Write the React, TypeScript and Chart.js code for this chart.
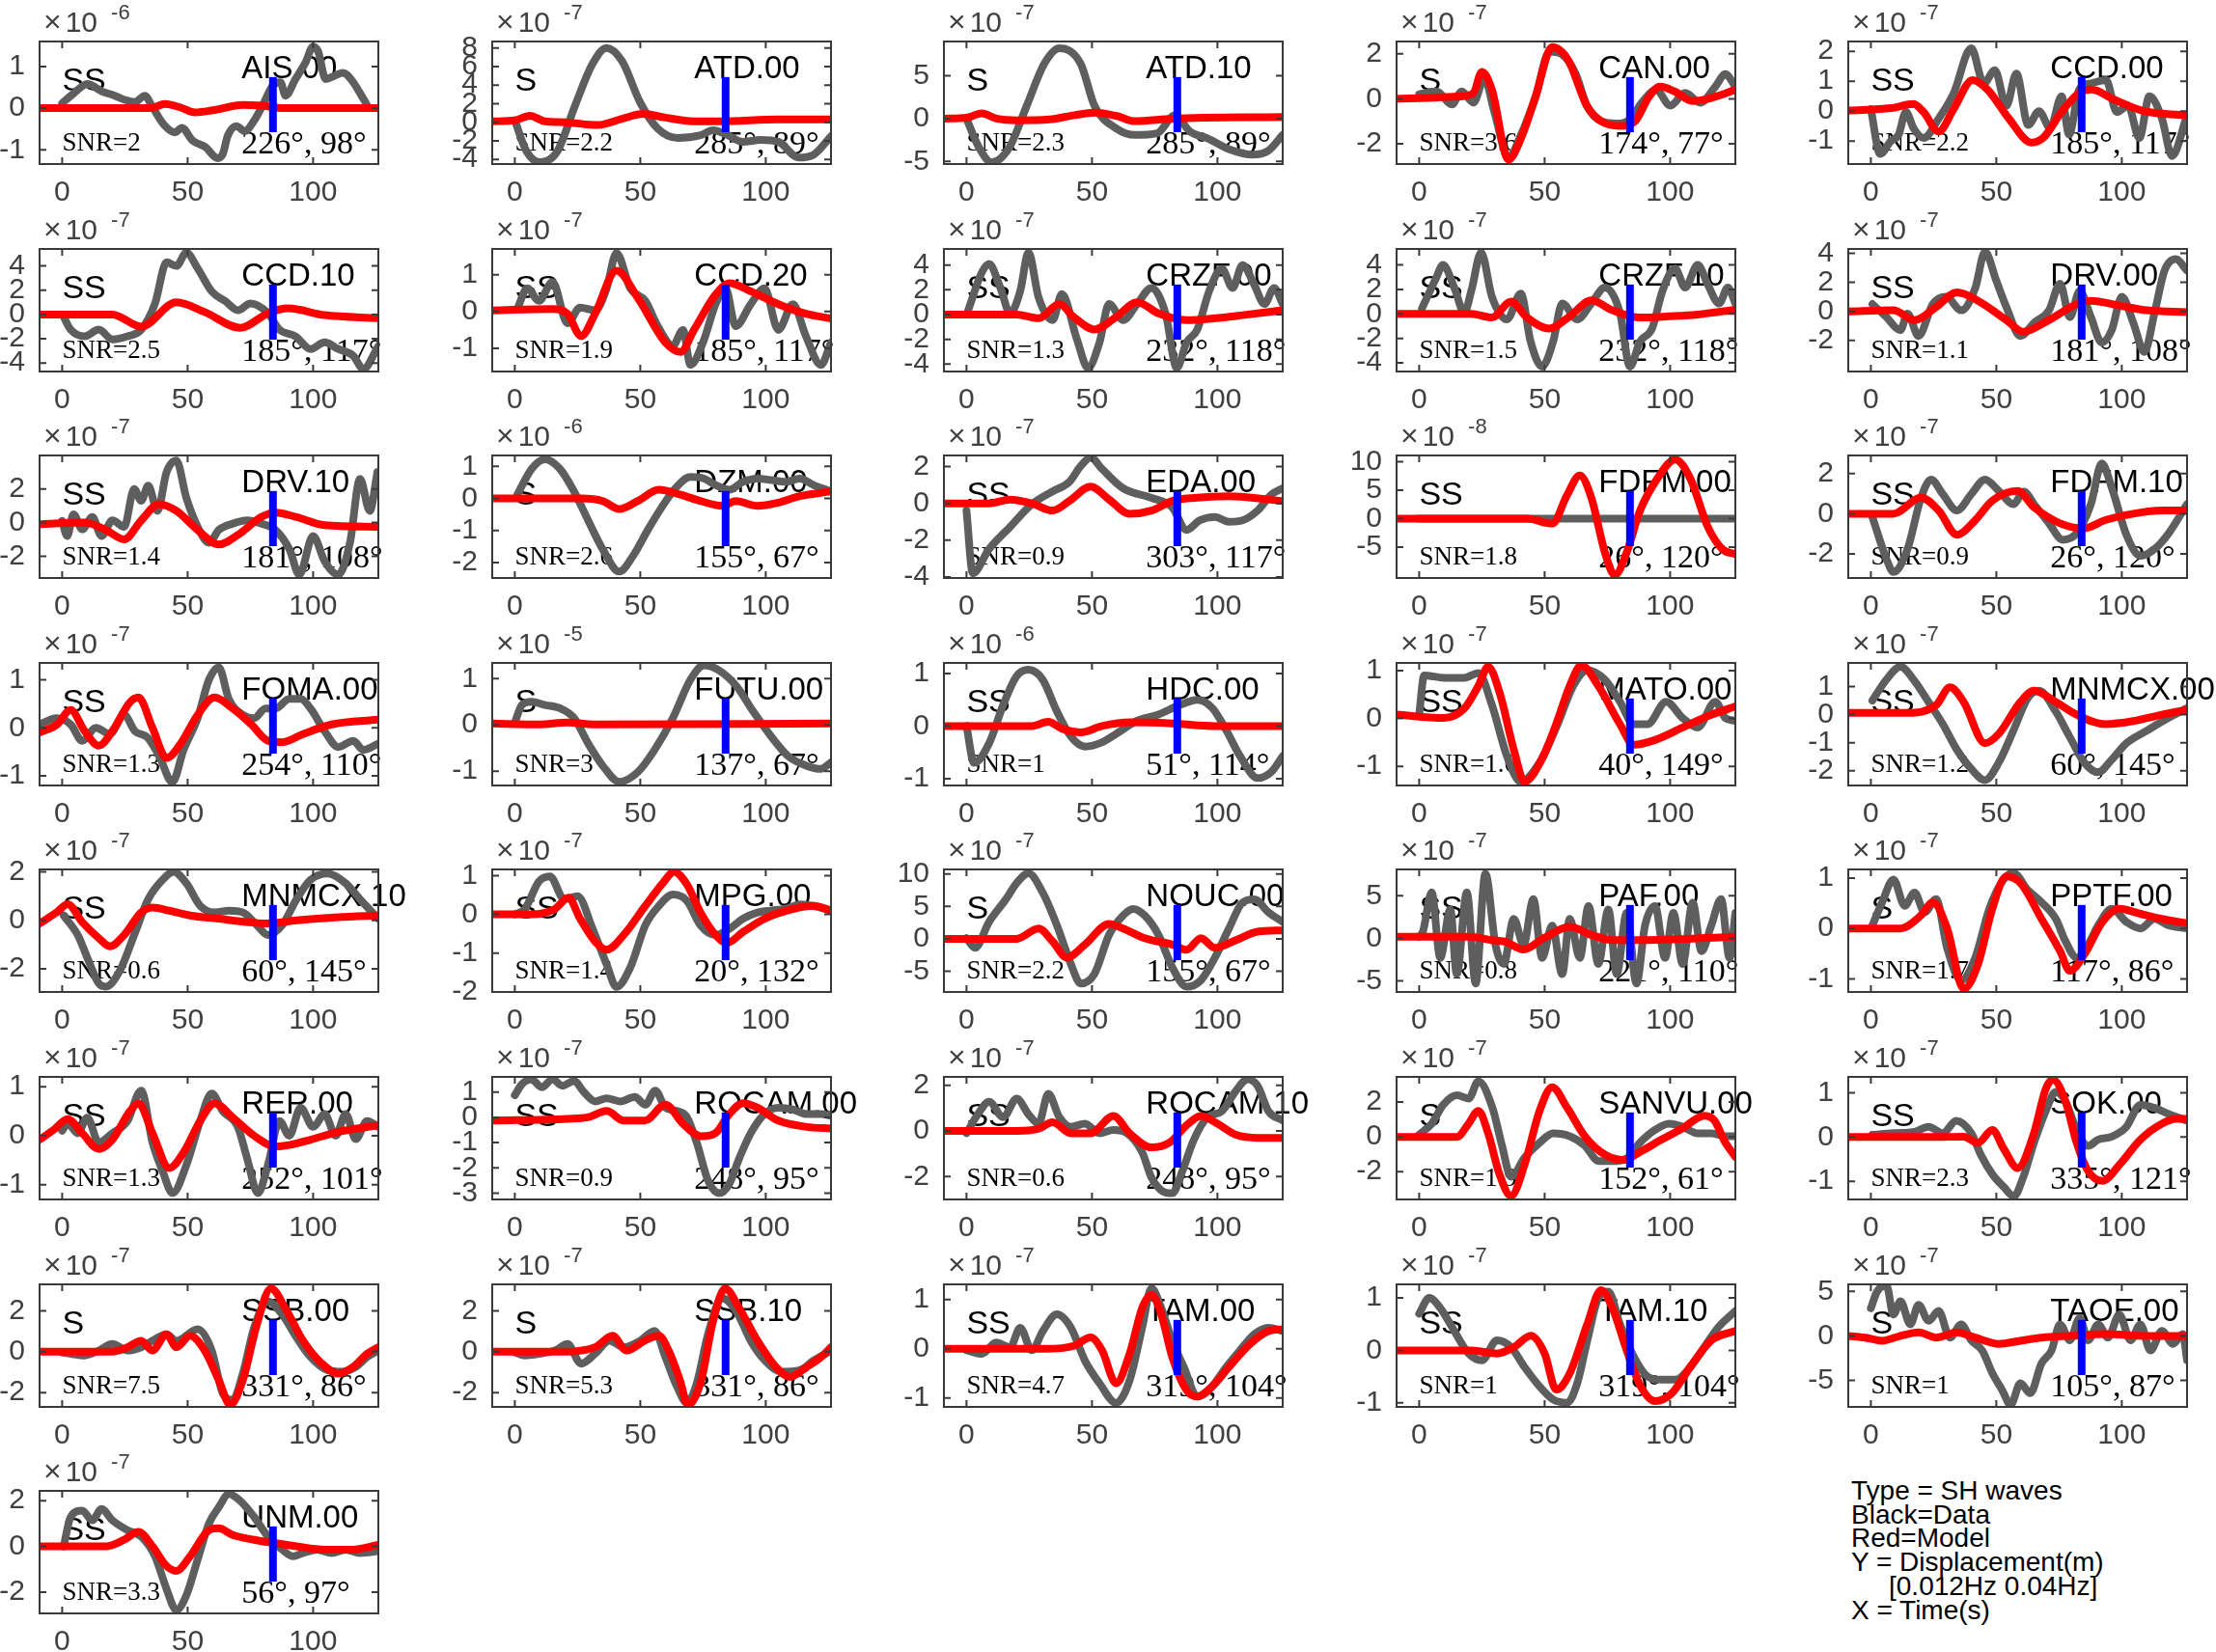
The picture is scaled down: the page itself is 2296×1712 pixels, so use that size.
import { useEffect, useRef } from "react";
import { Chart, registerables } from "chart.js";

Chart.register(...registerables);

// one entry per panel, row by row (5 per row)
const stations = [
  "AIS.00", "ATD.00", "ATD.10", "CAN.00", "CCD.00",
  "CCD.10", "CCD.20", "CRZF.00", "CRZF.10", "DRV.00",
  "DRV.10", "DZM.00", "EDA.00", "FDFM.00", "FDFM.10",
  "FOMA.00", "FUTU.00", "HDC.00", "MATO.00", "MNMCX.00",
  "MNMCX.10", "MPG.00", "NOUC.00", "PAF.00", "PPTF.00",
  "RER.00", "ROCAM.00", "ROCAM.10", "SANVU.00", "SOK.00",
  "SSB.00", "SSB.10", "TAM.00", "TAM.10", "TAOE.00",
  "UNM.00",
];
const phases = [
  "SS", "S", "S", "S", "SS",
  "SS", "SS", "SS", "SS", "SS",
  "SS", "S", "SS", "SS", "SS",
  "SS", "S", "SS", "SS", "SS",
  "SS", "SS", "S", "SS", "S",
  "SS", "SS", "SS", "S", "SS",
  "S", "S", "SS", "SS", "S",
  "SS",
];
const snrs = [
  "2", "2.2", "2.3", "3.6", "2.2",
  "2.5", "1.9", "1.3", "1.5", "1.1",
  "1.4", "2.6", "0.9", "1.8", "0.9",
  "1.3", "3", "1", "1.6", "1.2",
  "0.6", "1.4", "2.2", "0.8", "1.7",
  "1.3", "0.9", "0.6", "1.9", "2.3",
  "7.5", "5.3", "4.7", "1", "1",
  "3.3",
];
const azimuths = [
  226, 285, 285, 174, 185,
  185, 185, 232, 232, 181,
  181, 155, 303, 26, 26,
  254, 137, 51, 40, 60,
  60, 20, 155, 221, 117,
  252, 248, 248, 152, 335,
  331, 331, 319, 319, 105,
  56,
];
const distances = [
  98, 89, 89, 77, 117,
  117, 117, 118, 118, 108,
  108, 67, 117, 120, 120,
  110, 67, 114, 149, 145,
  145, 132, 67, 110, 86,
  101, 95, 95, 61, 121,
  86, 86, 104, 104, 87,
  97,
];
const exponents = [
  -6, -7, -7, -7, -7,
  -7, -7, -7, -7, -7,
  -7, -6, -7, -8, -7,
  -7, -5, -6, -7, -7,
  -7, -7, -7, -7, -7,
  -7, -7, -7, -7, -7,
  -7, -7, -7, -7, -7,
  -7,
];
const yMins = [
  -1.34, -4.5, -5.3, -2.9, -1.77,
  -4.7, -1.63, -4.6, -4.7, -4.15,
  -3.3, -2.48, -4.05, -10.4, -3.2,
  -1.2, -1.31, -1.13, -1.4, -2.52,
  -2.95, -2, -8.2, -6.3, -1.26,
  -1.3, -3.25, -3.0, -3.6, -1.41,
  -2.7, -2.7, -1.18, -1.08, -8.0,
  -2.93,
];
const yMaxs = [
  1.6, 8.7, 9.0, 2.55, 2.33,
  5.4, 1.7, 5.3, 5.3, 4.3,
  4.0, 1.34, 2.6, 11.1, 2.9,
  1.35, 1.34, 1.2, 1.16, 1.84,
  2.1, 1.16, 10.7, 8.1, 1.17,
  1.2, 1.6, 2.37, 3.45, 1.36,
  3.3, 3.3, 1.31, 1.26, 5.8,
  2.43,
];
const yTickValues = [
  [-1, 0, 1], [-4, -2, 0, 2, 4, 6, 8], [-5, 0, 5], [-2, 0, 2], [-1, 0, 1, 2],
  [-4, -2, 0, 2, 4], [-1, 0, 1], [-4, -2, 0, 2, 4], [-4, -2, 0, 2, 4], [-2, 0, 2, 4],
  [-2, 0, 2], [-2, -1, 0, 1], [-4, -2, 0, 2], [-5, 0, 5, 10], [-2, 0, 2],
  [-1, 0, 1], [-1, 0, 1], [-1, 0, 1], [-1, 0, 1], [-2, -1, 0, 1],
  [-2, 0, 2], [-2, -1, 0, 1], [-5, 0, 5, 10], [-5, 0, 5], [-1, 0, 1],
  [-1, 0, 1], [-3, -2, -1, 0, 1], [-2, 0, 2], [-2, 0, 2], [-1, 0, 1],
  [-2, 0, 2], [-2, 0, 2], [-1, 0, 1], [-1, 0, 1], [-5, 0, 5],
  [-2, 0, 2],
];
const xTickValues = [0, 50, 100];
const pickTime = 84;

const dataTraces: number[][][] = [
  [[0, 0.12], [3.5, 0.3], [8.6, 0.55], [10, 0.58], [16, 0.4], [21, 0.3], [25, 0.2], [29, 0.15], [33, 0.3], [35.5, 0.08], [40.6, -0.4], [45, -0.58], [47.7, -0.47], [52, -0.78], [57, -0.93], [62, -1.2], [64, -1.1], [66, -0.66], [69.5, -0.43], [72.7, -0.55], [76.5, -0.3], [80, 0.08], [84, 0.55], [87, 0.62], [89, 0.3], [93, 0.7], [97, 1.1], [100, 1.48], [102, 1.36], [105, 0.7], [108.6, 0.78], [112, 0.85], [116, 0.62], [120, 0.23], [122.7, 0], [126, 0]],
  [[0, 0.2], [4.6, -3.1], [10, -4.3], [17, -3.1], [24, 1.8], [31, 6.3], [36.5, 8.0], [42.7, 6.6], [50, 2.1], [57, -0.7], [65, -1.7], [74, -1.4], [79, -0.85], [85, -1.4], [90.7, -2.1], [98, -1.9], [105, -2.1], [113, -3.8], [119, -3.5], [126, -1.5]],
  [[0, 0], [4.5, -3.1], [10, -5.1], [17, -3.4], [24, 1.5], [31, 6.4], [37, 8.2], [45.5, 6.4], [51, 1.5], [60, -1.2], [67, -1.9], [76, -1.7], [83, 0.4], [89, -1.5], [96, -2.3], [105, -3.6], [114, -4.2], [120, -3.8], [126, -1.9]],
  [[0, 0.2], [7, 0.33], [13, -0.25], [17, 0.33], [21.6, -0.17], [26, 0.9], [30, -0.6], [35.6, -2.6], [40.6, -1.6], [46.4, 0.1], [52, 2.1], [56.6, 2.0], [62.4, 1.1], [66.8, -0.3], [72.6, -1.0], [78.5, -1.1], [84.3, -0.9], [88.7, -0.17], [94.5, 0.4], [100, -0.3], [106, 0.26], [112, -0.17], [118, 0.54], [122, 1.1], [126, 0.54]],
  [[0, 0.07], [3.7, -1.43], [8, -1.0], [11, -0.8], [14, -0.03], [17, -0.57], [21, -0.9], [27, -0.25], [33, 0.6], [40, 2.1], [45, 0.93], [49.4, 1.37], [54, 0.18], [58, 1.26], [62.7, -0.46], [67, 0], [71.5, -0.57], [76, 0.5], [79, -0.78], [83, 0.72], [87.8, 0.93], [93.7, 1.04], [98, -0.03], [102.5, 0.18], [107, -0.9], [111, 0.5], [116, -0.25], [120, -1.5], [126, -0.14]],
  [[0.6, -0.2], [3.4, -1.25], [9, -1.8], [14.6, -1.25], [20, -2.05], [26, -1.8], [31.5, -1.25], [37, 0.9], [41.6, 4.3], [45.5, 4.0], [49.5, 5.1], [54, 3.8], [59.6, 1.9], [65, 1.1], [70, 0.35], [75, 0.9], [82, 0.1], [86.6, -1.25], [93, -1.8], [99, -2.85], [104.6, -2.3], [110, -2.85], [116, -3.4], [120, -4.5], [126, -2.6]],
  [[1, 0.07], [5, 0.63], [9.6, 0.29], [15, 0.8], [21, -0.32], [26, 0.11], [32, 0.03], [36.6, 0.63], [40.5, 1.59], [46, 0.63], [52, 0.29], [57, -0.4], [63, -0.93], [67, -0.5], [70, -1.45], [75, -0.84], [80, 0.2], [84, 0.63], [88, -0.4], [94, 0.2], [99.5, 0.63], [105, -0.5], [110.8, 0.2], [116, -0.67], [122, -1.45], [126, -0.84]],
  [[0.6, 0.3], [6.2, 3.45], [9, 4.1], [13.5, 2.15], [17.4, 0.1], [21.4, 1.9], [24.7, 5.0], [28.7, 1.4], [34.3, -0.45], [38, 1.65], [44, -2.0], [48.4, -4.3], [53, -2.25], [56.8, 0.85], [62.4, -0.45], [68, 0.85], [73.7, 2.15], [79.3, 0.1], [83.8, -4.3], [87.7, -2.25], [92, -1.2], [96.7, 1.9], [101.8, 3.7], [106, 2.15], [110, 4.0], [114.7, 2.4], [118.7, 0.85], [122.6, 2.15], [126, 0.85]],
  [[1.1, 0.45], [6.7, 2.9], [9.5, 4.0], [14, 2.15], [18, 0.1], [20.8, 1.9], [24.7, 5.0], [29, 1.4], [35, -0.45], [40.5, 1.65], [44.4, -2.25], [49, -4.3], [53.4, -2.25], [57, 0.85], [63, -0.45], [68.6, 0.85], [74, 2.15], [80, 0.1], [84, -4.3], [88, -2.25], [92.8, -1.2], [97, 1.9], [102, 3.7], [106, 2.15], [111, 4.0], [115, 2.4], [119.5, 0.85], [123, 2.15], [126, 0.85]],
  [[0.6, 0.5], [6.2, -0.4], [11.8, -1.3], [14.6, -0.15], [19, -1.7], [24.7, 0.5], [30, 1.0], [36, 0.07], [41.6, 1.6], [45.5, 4.1], [50, 2.1], [54, 0.3], [59.6, -1.7], [65, -0.8], [71, 0.07], [75.4, 1.9], [79.3, -0.4], [83.2, 1.4], [87.7, -0.4], [92, -2.15], [96, -1.3], [100, 1.0], [104.6, -0.8], [109, -2.8], [113, -0.15], [117, 2.8], [121.5, 3.6], [126, 2.8]],
  [[0, 0.1], [2, -0.8], [4.5, 0.5], [8, -0.4], [12, 0.33], [15.7, -0.8], [20, 0.13], [24.7, -0.25], [28.7, 2.0], [31.5, 1.3], [34.3, 2.2], [38, 0.7], [41.6, 3.0], [45.5, 3.7], [49.5, 1.47], [54, -0.25], [58.5, -1.2], [62.4, -0.44], [68, -0.06], [73.7, 0.13], [79.3, -0.06], [85, -0.44], [90.6, -1.6], [94.5, -3.1], [100, -0.8], [104.6, -2.3], [110, -3.1], [114.7, -1.2], [118.7, 2.6], [122.6, 0.7], [125.6, 3.0]],
  [[1, 0.12], [6.7, 0.92], [12, 1.22], [18, 0.92], [23.6, 0.22], [29.2, -0.68], [35, -1.58], [41.6, -2.28], [47.2, -1.78], [53, -0.98], [58.5, -0.28], [64, 0.32], [70, 0.67], [75.4, 0.62], [80, 0.42], [85.5, 0.27], [91, 0.52], [96.7, 0.62], [102.3, 0.57], [108, 0.52], [113.6, 0.62], [119, 0.42], [126, 0.22]],
  [[0, -0.4], [2.5, -3.79], [9, -2.48], [17.4, -1.27], [26, -0.05], [34.3, 0.65], [41, 1.17], [45.6, 2.04], [49.5, 2.48], [54, 1.87], [62.4, 0.82], [73.7, 0.3], [82, -0.22], [87.7, -1.44], [93, -0.92], [99, -0.74], [104.6, -1.0], [110, -0.92], [116, -0.39], [121.5, 0.48], [126, 0.82]],
  [[0, 0], [40, 0], [80, 0], [126, 0]],
  [[0.6, -0.16], [6.2, -2.25], [9, -2.9], [14.6, -1.77], [20, 0.8], [24, 1.7], [28.7, 0.97], [34.3, 0.16], [40, 0.97], [45.5, 1.7], [51, 1.13], [56.8, 0.48], [61, 1.1], [65, 0.48], [71, -0.48], [76.5, -1.3], [82, -0.97], [87.7, 0.48], [92, 2.5], [96, 1.3], [102, -1.1], [107.5, -2.1], [113, -1.77], [118.7, -0.97], [126, 0.48]],
  [[-9, 0.07], [-2.2, 0.2], [3.4, 0.07], [8, -0.27], [13.5, 0], [19, -0.13], [24.7, 0.27], [29, -0.07], [34, -0.2], [38.8, -0.6], [43.9, -1.13], [48.4, -0.46], [54, 0.2], [58.5, 1.0], [62.4, 1.26], [66.4, 0.6], [72, 0.27], [76.5, 0.2], [81, 0.4], [85, 0.4], [90.5, 0.6], [95, 0.6], [99, 0.4], [104.6, -0.07], [110, -0.4], [116, -0.27], [120, -0.46], [126, -0.33]],
  [[0, 0.05], [2.8, 0.43], [6.7, 0.5], [12, 0.43], [18, 0.36], [23.6, 0.15], [29.2, -0.4], [35, -0.88], [41.6, -1.23], [49, -1.02], [55.7, -0.54], [63, 0.15], [70, 0.98], [75.4, 1.29], [81, 1.19], [88.3, 0.84], [95, 0.29], [102.3, -0.26], [109, -0.68], [116, -0.88], [122, -0.95], [126, -0.81]],
  [[0, 0], [3, -0.7], [9, -0.33], [14.6, 0.4], [20, 0.95], [24.7, 1.07], [30.4, 0.88], [36, 0.28], [41.6, -0.2], [47.2, -0.39], [53, -0.33], [59.6, -0.15], [68, 0.1], [76.5, 0.22], [85, 0.4], [92, 0.5], [98, 0.34], [103.5, -0.08], [109, -0.57], [116, -0.99], [121.5, -0.87], [126, -0.57]],
  [[0, 0.08], [2, 0.9], [10, 0.85], [18, 0.85], [23.6, 0.95], [29, 0.28], [35, -0.79], [40.5, -1.32], [48, -0.92], [54.6, -0.19], [61.4, 0.68], [67, 1.01], [74, 0.81], [80, 0.35], [85.5, -0.12], [91, -0.12], [98.4, 0.35], [105, 0.01], [111, -0.19], [118, 0.35], [122, 0.01], [126, -0.05]],
  [[0.6, 0.5], [6.2, 1.25], [11.8, 1.7], [17.4, 1.2], [23, 0.45], [28.7, -0.34], [34.3, -1.25], [40, -1.93], [45.5, -2.33], [51, -1.7], [56.8, -0.57], [62.4, 0.57], [67, 0.85], [73.7, 0.11], [79.3, -0.8], [85, -1.7], [90.6, -2.05], [96, -1.6], [101.8, -1.02], [110, -0.57], [118.7, -0.11], [126, 0.23]],
  [[0.6, 0.2], [6.2, -0.6], [10, -1.53], [14.6, -2.6], [17.4, -2.73], [23, -2.07], [28.7, -0.6], [34.3, 0.87], [40, 1.67], [44.4, 2.0], [49.5, 1.53], [55, 0.6], [60.7, 0.33], [66.4, 0.4], [72, 0.33], [77.6, -0.2], [82, -0.6], [87.7, -0.2], [93.4, 0.87], [99, 1.67], [105.7, 1.93], [113, 1.53], [118.7, 0.87], [126, 0.07]],
  [[0, 0], [4, 0.14], [9.6, 0.85], [14, 0.98], [19.7, 0.39], [25, 0.47], [31, -0.37], [36.6, -1.29], [40.5, -1.87], [46, -1.37], [52, -0.28], [57.4, 0.22], [63, 0.51], [68.6, 0.35], [74, -0.28], [80, -0.53], [85.5, -0.37], [91, -0.11], [96.7, 0.05], [102, 0.1], [108, 0.14], [113.6, 0.26], [119, 0.22], [126, 0.1]],
  [[0, 0.1], [3.4, -1.4], [9, 2.6], [15.7, 6.1], [20, 8.6], [24.7, 10.1], [30.4, 7.1], [36, 2.1], [41.6, -3.9], [45.5, -6.9], [51, -5.4], [56.8, 0.6], [62.4, 3.6], [66.4, 4.6], [71, 3.6], [76.5, 0.6], [82, -4.4], [87.7, -7.4], [93.4, -6.4], [99, -2.9], [104.6, 1.6], [110, 5.6], [114.7, 6.1], [120.3, 4.1], [126, 2.6]],
  [[0, 0.2], [1.5, 0.8], [5, 5.4], [8.4, -2.3], [12.4, 3.4], [15, -4.2], [19, 5.4], [22.5, -5.3], [26.4, 7.6], [30.4, -0.75], [33.7, -3.0], [37.7, 2.3], [41.6, -0.75], [45.5, 4.6], [49, -2.3], [53, 1.5], [57, -4.2], [60, 2.3], [64, -2.3], [67.5, 3.8], [71.4, -3.0], [75.4, 3.4], [78.7, -4.2], [82.7, 3.0], [86.6, -5.3], [90, 1.5], [94, 3.8], [98, -2.3], [101.3, 3.0], [105, -3.0], [109, 4.2], [112.5, -1.5], [116.4, 1.5], [120.3, 4.6], [123.7, -2.3], [126, 3.0]],
  [[0.6, 0.06], [4.5, 0.52], [9, 0.97], [13.5, 0.45], [17.4, 0.71], [21.4, 0.32], [26, 0.58], [30.4, -0.39], [36, -1.03], [41.6, -0.58], [47.2, 0.39], [52.9, 0.97], [56.8, 1.1], [62.4, 0.77], [68, 0.52], [73.7, 0.19], [77.6, -0.26], [82, -0.58], [86.6, -0.32], [90.6, 0.06], [96, 0.39], [101.8, 0.13], [107.4, 0], [113, 0.19], [118.7, 0.06], [126, 0]],
  [[0, 0.1], [2.2, 0.25], [6.2, 0.05], [10, 0.37], [14.6, -0.14], [20, 0.05], [26, 0.3], [31.5, 0.92], [36, -0.14], [40, -0.72], [44, -1.17], [49.5, -0.6], [55, 0.3], [59.6, 0.86], [64, 0.5], [70, 0.18], [73.7, -0.46], [78, -1.17], [82, -0.6], [86.6, 0.3], [90.5, 0], [95, 0.57], [100, 0.18], [104.6, 0.44], [109, 0], [113, 0.44], [117, -0.07], [121.5, 0.3], [126, 0.18]],
  [[0, 0.875], [2.8, 1.31], [6.7, 1.5], [10.7, 1.19], [15, 1.5], [19, 1.25], [23.6, 1.44], [27.5, 1.0], [32, 0.63], [36.6, 0.75], [42, 0.63], [47.8, 0.81], [52, 0.5], [56, 1.06], [60, 0.38], [64.6, 0.25], [68.6, 0], [72.5, -1.0], [77, -2.5], [81.6, -3.0], [85.5, -2.63], [89.4, -1.63], [94, -0.63], [99.5, 0.13], [105, 0.38], [110.8, 0.31], [116.4, 0.13], [122, 0.13], [126, 0.06]],
  [[0, -0.1], [4.5, 0.73], [9, 1.28], [14.6, 0.6], [20, 1.42], [24.7, 0.73], [28.7, 0.32], [32.6, 1.63], [37, 0.6], [41.6, 0.18], [47.2, 0.32], [53, -0.1], [58.5, 0.04], [64, -0.1], [70, -0.93], [73.7, -2.04], [77.6, -2.6], [82, -2.73], [86, -1.76], [90.6, -0.38], [96, 0.6], [101.8, 0.87], [107.4, 1.77], [112, 2.26], [116, 1.98], [120.3, 0.87], [126, 0.46]],
  [[0, 0.13], [5, 0.76], [9.6, 1.85], [15, 2.4], [19.7, 2.2], [23.6, 3.2], [29.2, 1.67], [33, -0.5], [36.6, -2.3], [42, -1.2], [48, -0.33], [53.4, 0.2], [60, 0.04], [66, -0.5], [71.6, -1.4], [77, -1.4], [82.7, -1.24], [88, -0.33], [94, 0.4], [99.6, 0.76], [105, 0.58], [111, 0.2], [116.4, 0.2], [122, 0.04], [126, 0.04]],
  [[0.6, 0.05], [9, 0.09], [17.4, 0.12], [23, 0.23], [28.7, 0.09], [34, 0.37], [40, 0.09], [43.9, -0.41], [48.4, -0.84], [53, -1.13], [57, -1.34], [60.7, -0.91], [65, -0.13], [69.7, 0.59], [73.7, 1.02], [77.6, 0.8], [82, 0.16], [86.6, -0.2], [90.5, -0.06], [96, 0.01], [101.8, 0.23], [107.4, 0.73], [113, 0.66], [118.7, 0.52], [126, 0.37]],
  [[0, -0.03], [3.4, -0.1], [9, -0.18], [14.6, 0.06], [20, 0.38], [26, 0.06], [31.5, 0.22], [36, 0.54], [41.6, 0.86], [45.5, 0.54], [54, 1.1], [59.6, 0.06], [64, -2.03], [68, -2.35], [72, -1.07], [76.5, 1.18], [82, 2.46], [87.7, 1.82], [93.4, 0.7], [99, -0.26], [105.7, -0.9], [111.4, -0.98], [117, -0.74], [121.5, -0.26], [126, 0.06]],
  [[0, -0.03], [4, -0.18], [9.6, -0.1], [16, 0.06], [21, 0.38], [26.4, -0.58], [32, -0.1], [37.7, 0.54], [43.4, 0.22], [50, 0.54], [55.7, 1.02], [60, -0.26], [64.6, -1.7], [68.6, -2.5], [72.5, -1.55], [77, 0.86], [82.7, 2.62], [88.3, 1.98], [94, 0.54], [99.6, -0.42], [106.3, -0.98], [113.6, -0.9], [119.2, -0.42], [126, 0.06]],
  [[0, -0.03], [6.2, -0.1], [11.8, 0.13], [17.4, 0.03], [21.4, 0.43], [26, -0.03], [30.4, 0.36], [36, 0.7], [41.6, 0.43], [47.2, -0.24], [53, -0.7], [59.6, -1.1], [65, -0.64], [70, 0.43], [73.7, 1.23], [77.6, 0.83], [82, 0.16], [86.6, -0.37], [92, -0.97], [97.8, -0.77], [103.5, -0.37], [109, -0.03], [114.7, 0.3], [120.3, 0.43], [126, 0.36]],
  [[0, 0.7], [4, 1.0], [8.4, 0.81], [14, 0.37], [19.7, -0.06], [25, -0.19], [31, 0.19], [36.6, 0.06], [42, -0.32], [48, -0.69], [53.4, -0.94], [59, -1.0], [63, -0.63], [67, 0.19], [71.4, 1.0], [75.4, 1.12], [80, 0.5], [85.5, -0.12], [91, -0.5], [96.7, -0.56], [102.3, -0.56], [108, -0.32], [113.6, 0.06], [119.2, 0.44], [126, 0.75]],
  [[0, 3.1], [2.5, 5.0], [6.2, 5.7], [9, 2.4], [11.8, 3.9], [15.7, 1.3], [19, 3.5], [23, 1.7], [27, 2.8], [31.5, -0.2], [36, 1.3], [40, -0.5], [44.4, -1.65], [48.4, -4.2], [52.3, -6.1], [55.7, -7.75], [59.6, -5.35], [63.5, -6.45], [68, -3.1], [72, -1.65], [75.4, 1.3], [79.3, -0.5], [83.2, 2.0], [86.6, -0.5], [90.6, 1.3], [94.5, -0.2], [99, 2.4], [103.5, -0.5], [107.4, 1.3], [111.4, -1.65], [116, 0.55], [120.4, -0.9], [124.3, 0.2], [126, -2.75]],
  [[0.6, 0], [3.4, 1.29], [8, 1.57], [12, 1.14], [15.7, 1.64], [20, 1.14], [26, 0.71], [31.5, 0.43], [37, -0.43], [41.6, -1.86], [45.5, -2.79], [49.5, -2.14], [54, -0.57], [58.5, 1.0], [62.4, 1.71], [66.4, 2.29], [70.9, 2.0], [76.5, 1.29], [82, 0.43], [87.7, -0.14], [92, -0.43], [96, -0.29], [101.8, -0.14], [107.4, -0.29], [113, -0.14], [118.7, -0.29], [126, -0.21]],
];

// synthetic (model) traces
const modelTraces: number[][][] = [
  [[-9, 0], [35, 0], [41, 0.1], [47, 0.02], [53, -0.1], [60, -0.05], [72, 0.08], [80, 0.06], [88, 0], [126, 0]],
  [[-9, 0.1], [0, 0.2], [6, 0.7], [12, 0.1], [20, 0], [33, -0.3], [43, 0.4], [51, 0.9], [60, 0.5], [71, 0.1], [82, 0.1], [105, 0.3], [126, 0.3]],
  [[-9, 0], [0, 0.1], [6, 0.6], [12, 0], [20, -0.2], [33, -0.1], [43, 0.4], [51, 0.7], [60, 0.3], [67, -0.3], [82, 0], [126, 0.2]],
  [[-9, 0], [15.8, 0.1], [21.6, 0.26], [25, 1.2], [29, 0.4], [35.6, -2.7], [40.6, -1.75], [46.4, 0.1], [53, 2.3], [59.5, 1.7], [66.8, -0.3], [72.6, -1.0], [80, -1.2], [86, -1.0], [91.6, 0.1], [96, 0.54], [101.8, 0.33], [109, -0.1], [115, 0], [126, 0.4]],
  [[-9, 0.02], [8, 0.1], [17, 0.24], [21, -0.03], [27, -0.68], [33, 0.07], [40.5, 1.04], [46.5, 0.72], [55, -0.25], [64, -1.05], [68.6, -0.9], [76, -0.03], [83, 0.61], [88, 0.72], [96.6, 0.4], [108, 0.02], [117, -0.09], [126, -0.14]],
  [[-9, 0], [20, 0], [31.5, -1.0], [45.5, 1.0], [56.8, 0.2], [71, -1.1], [82, 0.1], [90, 0.5], [104.6, -0.05], [126, -0.3]],
  [[-9, 0.03], [15, 0.07], [21, -0.06], [26.4, -0.67], [32, -0.06], [40.5, 1.11], [49, 0.37], [60, -0.84], [66, -1.1], [71.4, -0.5], [80, 0.46], [85.6, 0.77], [94, 0.55], [105, 0.2], [116, -0.06], [126, -0.19]],
  [[-9, 0], [20, 0], [28.7, -0.3], [37, 0.85], [42.7, -0.2], [51, -1.2], [59.6, -0.2], [68, 1.0], [76.5, 0.1], [87.7, -0.45], [99, -0.3], [110, -0.05], [126, 0.35]],
  [[-9, 0], [20.8, 0], [29, -0.3], [36.6, 1.0], [43, -0.3], [51.7, -1.2], [60, -0.2], [68.6, 1.1], [77, 0.3], [88, -0.3], [99.6, -0.2], [111, -0.05], [126, 0.35]],
  [[-9, 0], [9, 0.07], [17.4, -0.6], [26, 0.3], [34.3, 1.3], [42.7, 0.73], [54, -0.6], [60.7, -1.4], [71, -0.6], [82, 0.5], [87.7, 0.73], [99, 0.4], [110, 0.07], [126, -0.05]],
  [[-9, -0.1], [9, 0], [17.4, -0.44], [24.7, -1.0], [31.5, 0.13], [38.6, 1.1], [45.5, 0.7], [54, -0.44], [62.4, -1.3], [71, -0.63], [79.3, 0.33], [85, 0.6], [93.4, 0.33], [104.6, -0.15], [126, -0.25]],
  [[-9, 0], [26.4, 0], [35, -0.08], [41.6, -0.33], [49, -0.08], [57.4, 0.27], [66, 0.12], [74, -0.08], [82.7, -0.23], [88, -0.08], [96.7, -0.23], [105, -0.13], [113.6, 0.07], [126, 0.22]],
  [[-9, 0], [9, 0], [17.4, 0.21], [26, 0], [34.3, -0.39], [41, 0.13], [49.5, 0.91], [56.8, 0.21], [65, -0.57], [73.7, -0.39], [82, 0.13], [90.6, 0.3], [104.6, 0.39], [126, 0.13]],
  [[-9, 0], [43, 0], [53, -0.85], [59, 4.2], [64, 7.6], [68.6, 3.7], [74, -5.9], [78, -9.9], [82.7, -5.9], [88, 1.4], [95, 7.1], [102, 10.4], [108, 7.1], [115, -1.4], [121, -5.4], [126, -6.2]],
  [[-9, 0], [9, 0], [20, 0.8], [27, 0.16], [34.3, -1.05], [41.6, -0.32], [48.4, 0.65], [58.5, 1.13], [65, 0.32], [75.4, -0.48], [84.9, -0.73], [93.4, -0.32], [104.6, 0], [116, 0.16], [126, 0.16]],
  [[-9, -0.1], [-2, 0.07], [3.4, 0.37], [9, -0.07], [14.6, -0.37], [20, -0.07], [27, 0.53], [30.4, 0.63], [36, 0], [41.6, -0.63], [47.2, -0.33], [54, 0.27], [60.7, 0.63], [68, 0.4], [75.4, 0.07], [82, -0.27], [87.7, -0.3], [96, -0.13], [107.4, 0.07], [126, 0.17]],
  [[-9, 0.03], [9.6, 0.01], [20.8, 0.05], [32, 0.01], [126, 0.03]],
  [[-9, 0], [26, 0], [32.6, 0.08], [38, -0.05], [45.5, -0.12], [54, 0], [65, 0.07], [82, 0.05], [99, 0], [126, 0]],
  [[-9, 0.08], [9.6, 0.01], [18, 0.21], [23.6, 0.68], [27.5, 1.08], [32, 0.55], [37.7, -0.65], [42, -1.32], [48.9, -0.85], [54.6, -0.12], [60, 0.68], [64.6, 1.11], [71.4, 0.68], [80, -0.12], [85.5, -0.55], [94, -0.45], [105, -0.19], [116.6, 0.08], [126, 0.25]],
  [[-9, 0.06], [14.6, 0.06], [26, 0.34], [31.5, 0.97], [37, 0.45], [45.5, -1.02], [51, -0.68], [59.6, 0.45], [65, 0.85], [73.7, 0.45], [82, 0], [93.4, -0.34], [104.6, -0.23], [116, 0], [126, 0.17]],
  [[-9, -0.13], [-2.2, 0.33], [2.2, 0.67], [8, -0.07], [14.6, -0.73], [19, -1.07], [24.7, -0.6], [31.5, 0.33], [36, 0.53], [42.7, 0.4], [51, 0.2], [62.4, 0.07], [73.7, -0.07], [82, -0.13], [93.4, 0], [110.3, 0.13], [126, 0.2]],
  [[-9, 0], [6.7, 0], [16, 0.14], [21.4, 0.43], [26, -0.11], [32, -0.7], [36.6, -0.91], [43.4, -0.53], [52, 0.22], [59, 0.81], [63.5, 1.1], [68.6, 0.77], [74, 0.05], [80, -0.53], [84.4, -0.74], [91, -0.45], [99.5, -0.11], [110.8, 0.14], [119, 0.22], [126, 0.1]],
  [[-9, 0], [20, 0], [28.7, 1.6], [34.3, -0.4], [40, -2.9], [47.2, -0.9], [56.8, 2.3], [62.4, 1.6], [71, 0.1], [82, -0.9], [87.7, -1.7], [93.4, 0.1], [99, -1.4], [107.4, -0.2], [116, 1.1], [126, 1.3]],
  [[-9, 0.2], [20, 0.2], [28.7, -0.2], [34.3, -0.4], [41.6, -1.3], [49.5, 0], [60, 1.35], [68.6, 0.4], [77, -0.2], [91, -0.2], [126, 0.2]],
  [[-9, 0], [11.8, 0], [20, 0.26], [24.7, 0.52], [30.4, 0], [37, -1.2], [42.7, -0.71], [48.4, 0.39], [54, 1.03], [59.6, 0.9], [68, 0.19], [75.4, -0.45], [79.3, -0.84], [85, -0.52], [92.3, 0.13], [99, 0.39], [107.4, 0.29], [116, 0.19], [126, 0.1]],
  [[-9, -0.08], [-3.4, 0.12], [2.2, 0.34], [8, 0.05], [14.6, -0.27], [20, -0.08], [27, 0.5], [30.4, 0.66], [36, 0.05], [42.7, -0.66], [48.4, -0.34], [55, 0.3], [60.7, 0.66], [68, 0.37], [76.5, 0], [85, -0.22], [90.5, -0.19], [99, -0.08], [110.3, 0.08], [126, 0.21]],
  [[-9, -0.13], [20.8, -0.06], [29, 0], [36.6, 0.25], [43.4, -0.13], [51.8, -0.13], [60, 0.5], [67, -0.25], [74.3, -0.75], [79.9, -0.63], [85.5, 0.13], [91, 0.56], [96.7, 0.38], [105, -0.13], [116.4, -0.38], [126, -0.44]],
  [[-9, 0], [20, 0], [28.7, 0.1], [34.3, 0.38], [41.6, -0.1], [49.5, -0.1], [58.5, 0.66], [65, -0.1], [73.7, -0.72], [81, -0.5], [87.7, 0.25], [93.4, 0.66], [100, 0.32], [107.4, -0.17], [116, -0.3], [126, -0.3]],
  [[-9, 0], [15, 0], [19.7, 0.76], [23.6, 1.5], [27.5, 0.2], [32, -2.15], [36.6, -3.4], [42, -1.6], [48, 1.5], [53, 2.85], [59, 1.67], [66, 0.04], [74.3, -1.05], [81.6, -1.33], [88, -0.87], [96.7, -0.15], [105, 0.5], [113.6, 1.22], [117.6, 0.95], [122, -0.33], [126, -1.15]],
  [[-9, 0], [26, 0], [37, 0.01], [42.7, -0.13], [48.4, 0.16], [53, -0.27], [58.5, -0.7], [65, 0.09], [69.7, 1.09], [72.5, 1.3], [77.6, 0.8], [82, -0.13], [86.6, -0.77], [92.3, -0.99], [99, -0.63], [107.4, -0.06], [116, 0.3], [121.5, 0.41], [126, 0.41]],
  [[-9, 0], [20, 0], [26, 0.22], [31.5, 0.54], [36, 0.06], [41.6, 0.86], [45.5, 0.22], [51, 0.78], [56.8, 0.06], [62.4, -1.39], [67, -2.6], [72, -1.39], [77.6, 1.34], [83.2, 3.1], [88.9, 2.14], [96, 0.54], [103.5, -0.58], [110, -1.07], [116, -0.74], [121.5, -0.1], [126, 0.22]],
  [[-9, 0], [20.8, 0], [26.4, 0.06], [32, 0.22], [39, 0.78], [44.5, 0.06], [51.8, 0.54], [57.4, 0.78], [61.3, 0.06], [65.8, -1.39], [69, -2.6], [74.3, -1.39], [78.7, 1.34], [83.8, 3.1], [89.4, 2.14], [96.7, 0.54], [104, -0.74], [109.6, -1.23], [116.4, -0.74], [122, -0.26], [126, 0.22]],
  [[-9, 0], [31.5, 0], [42.7, 0.06], [49.5, 0.23], [54, -0.03], [59.6, -0.7], [65, -0.1], [70, 0.83], [73.7, 1.1], [77.6, 0.7], [82, -0.17], [87.7, -0.84], [92, -0.97], [97.8, -0.77], [104.6, -0.37], [113, 0.1], [120.3, 0.36], [126, 0.4]],
  [[-9, 0], [20.8, 0], [31, -0.06], [37.7, 0.06], [44.5, 0.28], [50, -0.06], [54.6, -0.75], [60, -0.44], [67, 0.5], [72.5, 1.15], [77, 0.81], [82.7, 0], [88.3, -0.69], [94, -0.97], [100.7, -0.82], [108, -0.32], [116.4, 0.19], [126, 0.37]],
  [[-9, 0], [-2.2, -0.2], [4.5, -0.55], [11.8, 0], [19, 0.4], [26, -0.2], [34.3, 0.4], [41.6, -0.2], [51, -0.9], [59.6, -0.55], [68, -0.2], [79.3, 0], [93.4, 0.2], [110.3, 0], [126, 0]],
  [[-9, 0], [17.4, 0], [24.7, 0.29], [30.4, 0.64], [36, 0], [41.6, -0.86], [45.5, -1.07], [51, -0.43], [58.5, 0.71], [62.4, 0.79], [68, 0.5], [76.5, 0.29], [85, 0.14], [93.4, 0], [104.6, -0.14], [116, -0.14], [126, 0.07]],
];

const notes = [
  "Type = SH waves",
  "Black=Data",
  "Red=Model",
  "Y = Displacement(m)",
  "[0.012Hz 0.04Hz]",
  "X = Time(s)",
];

const X_MIN = -9;
const X_MAX = 126;
const BOX_X0 = 41;
const COL_STEP = 468.6;
const BOX_Y0 = 43;
const ROW_STEP = 214.6;
const BOX_W = 351;
const BOX_H = 127;
const PAD_L = 70;
const PAD_R = 80;
const PAD_T = 50;
const PAD_B = 55;
const CW = PAD_L + BOX_W + PAD_R;
const CH = PAD_T + BOX_H + PAD_B;

const SANS = '"Liberation Sans", Arial, Helvetica, sans-serif';
const SERIF = '"Liberation Serif", "Times New Roman", serif';
const AXIS_GRAY = "#404040";

function Panel({ i }: { i: number }) {
  const canvasRef = useRef<HTMLCanvasElement | null>(null);

  useEffect(() => {
    if (!canvasRef.current) return;
    const yMin = yMins[i];
    const yMax = yMaxs[i];
    const span = yMax - yMin;

    const decor = {
      id: "decor",
      beforeDatasetsDraw(chart: any) {
        const { ctx, chartArea: a, scales } = chart;
        const x0 = scales.x.getPixelForValue(0);
        const xs = scales.x.getPixelForValue(71.5);
        ctx.save();
        ctx.fillStyle = "#000";
        ctx.textAlign = "left";
        ctx.textBaseline = "alphabetic";
        ctx.font = `34px ${SANS}`;
        ctx.fillText(phases[i], x0, a.top + 51);
        ctx.font = `33px ${SANS}`;
        ctx.fillText(stations[i], xs, a.top + 38);
        ctx.font = `27px ${SERIF}`;
        ctx.fillText("SNR=" + snrs[i], x0, a.bottom - 14);
        ctx.font = `34px ${SERIF}`;
        ctx.fillText(`${azimuths[i]}°, ${distances[i]}°`, xs, a.bottom - 11);
        ctx.restore();
      },
      afterDraw(chart: any) {
        const { ctx, chartArea: a, scales } = chart;
        ctx.save();
        ctx.strokeStyle = "#3a3a3a";
        ctx.lineWidth = 2;
        ctx.strokeRect(a.left, a.top, a.right - a.left, a.bottom - a.top);
        ctx.beginPath();
        for (const v of xTickValues) {
          const px = scales.x.getPixelForValue(v);
          ctx.moveTo(px, a.bottom);
          ctx.lineTo(px, a.bottom - 7);
          ctx.moveTo(px, a.top);
          ctx.lineTo(px, a.top + 7);
        }
        for (const v of yTickValues[i]) {
          if (v < yMin || v > yMax) continue;
          const py = scales.y.getPixelForValue(v);
          ctx.moveTo(a.left, py);
          ctx.lineTo(a.left + 7, py);
          ctx.moveTo(a.right, py);
          ctx.lineTo(a.right - 7, py);
        }
        ctx.stroke();
        // axis multiplier, e.g. ×10^-7
        ctx.fillStyle = AXIS_GRAY;
        ctx.textAlign = "left";
        ctx.textBaseline = "alphabetic";
        ctx.font = `32px ${SANS}`;
        ctx.fillText("×", a.left + 4, a.top - 10);
        const wx = ctx.measureText("×").width;
        ctx.font = `30px ${SANS}`;
        const tx = a.left + 4 + wx + 4;
        ctx.fillText("10", tx, a.top - 10);
        const w10 = ctx.measureText("10").width;
        ctx.font = `22px ${SANS}`;
        ctx.fillText(String(exponents[i]), tx + w10 + 14, a.top - 23);
        ctx.restore();
      },
    };

    const chart = new Chart(canvasRef.current, {
      type: "line",
      data: {
        datasets: [
          {
            label: "pick",
            data: [
              { x: pickTime, y: yMin + 0.26 * span },
              { x: pickTime, y: yMin + 0.71 * span },
            ],
            borderColor: "#0000ff",
            borderWidth: 8,
            borderCapStyle: "butt",
            pointRadius: 0,
            order: 0,
          },
          {
            label: "Model",
            data: modelTraces[i].map(([x, y]) => ({ x, y })),
            borderColor: "#ff0000",
            borderWidth: 8,
            borderCapStyle: "round",
            borderJoinStyle: "round",
            cubicInterpolationMode: "monotone",
            pointRadius: 0,
            order: 1,
          },
          {
            label: "Data",
            data: dataTraces[i].map(([x, y]) => ({ x, y })),
            borderColor: "#5e5e5e",
            borderWidth: 8,
            borderCapStyle: "round",
            borderJoinStyle: "round",
            cubicInterpolationMode: "monotone",
            pointRadius: 0,
            order: 2,
          },
        ],
      },
      options: {
        responsive: false,
        animation: false,
        devicePixelRatio: 1,
        events: [],
        layout: { padding: { left: 0, right: PAD_R, top: PAD_T, bottom: 0 } },
        plugins: { legend: { display: false }, tooltip: { enabled: false } },
        scales: {
          x: {
            type: "linear",
            min: X_MIN,
            max: X_MAX,
            grid: { display: false, drawTicks: false },
            border: { display: false },
            ticks: {
              autoSkip: false,
              maxRotation: 0,
              padding: 12,
              color: AXIS_GRAY,
              font: { family: SANS, size: 30 },
              callback: (v: any) => String(v),
            },
            afterBuildTicks: (s: any) => {
              s.ticks = xTickValues.map((v) => ({ value: v }));
            },
            afterFit: (s: any) => {
              s.height = PAD_B;
            },
          },
          y: {
            type: "linear",
            min: yMin,
            max: yMax,
            grid: { display: false, drawTicks: false },
            border: { display: false },
            ticks: {
              autoSkip: false,
              padding: 15,
              color: AXIS_GRAY,
              font: { family: SANS, size: 30 },
              callback: (v: any) => String(v),
            },
            afterBuildTicks: (s: any) => {
              s.ticks = yTickValues[i].map((v) => ({ value: v }));
            },
            afterFit: (s: any) => {
              s.width = PAD_L;
            },
          },
        },
      },
      plugins: [decor],
    } as any);

    return () => {
      chart.destroy();
    };
  }, [i]);

  const col = i % 5;
  const row = Math.floor(i / 5);
  return (
    <canvas
      ref={canvasRef}
      width={CW}
      height={CH}
      style={{
        position: "absolute",
        left: BOX_X0 + col * COL_STEP - PAD_L,
        top: BOX_Y0 + row * ROW_STEP - PAD_T,
        width: CW,
        height: CH,
      }}
    />
  );
}

export default function App() {
  return (
    <div
      style={{
        position: "fixed",
        left: 0,
        top: 0,
        width: 2296,
        height: 1712,
        background: "#fff",
        overflow: "hidden",
      }}
    >
      {stations.map((s, i) => (
        <Panel key={s} i={i} />
      ))}
      <div
        style={{
          position: "absolute",
          left: 1918,
          top: 1533,
          font: `28px ${SANS}`,
          lineHeight: "24.7px",
          color: "#000",
          whiteSpace: "pre",
        }}
      >
        {notes.map((n, k) => (
          <div key={k} style={{ paddingLeft: k === 4 ? 39 : 0 }}>
            {n}
          </div>
        ))}
      </div>
    </div>
  );
}
